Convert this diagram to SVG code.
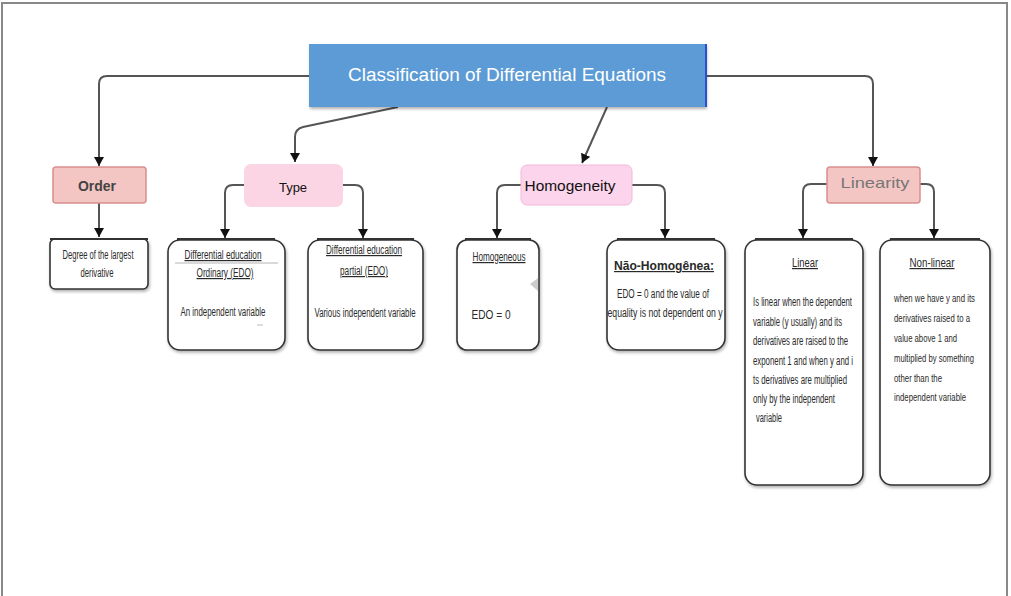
<svg xmlns="http://www.w3.org/2000/svg" width="1011" height="596" viewBox="0 0 1011 596">
<defs>
<marker id="arr" markerUnits="userSpaceOnUse" markerWidth="10" markerHeight="10" refX="9" refY="5" orient="auto">
<path d="M0,0 L9,5 L0,10 z" fill="#111"/>
</marker>
<filter id="sh" x="-10%" y="-10%" width="130%" height="130%">
<feDropShadow dx="1" dy="2" stdDeviation="1.5" flood-color="#000" flood-opacity="0.3"/>
</filter>
</defs>
<style>
.con{fill:none;stroke:#555;stroke-width:2;marker-end:url(#arr)}
.card{fill:#fff;stroke:#333;stroke-width:1.6;filter:url(#sh)}
.top{stroke:#333;stroke-width:2.2}
.sm{font-family:"Liberation Sans",Arial,sans-serif;font-size:12px;fill:#2a2a2a}
.nl{font-size:10.5px}
.u{text-decoration:underline}
.c{text-anchor:middle}
</style>
<rect x="2" y="3" width="1005" height="600" fill="#fff" stroke="#888" stroke-width="2"/>

<g id="connectors">
<path class="con" d="M309,76 H107 Q99,76 99,84 V166"/>
<path class="con" d="M398,107 L303,127 Q295,129 295,137 V162"/>
<path class="con" d="M607,107 L582,163"/>
<path class="con" d="M706,76 H865 Q873,76 873,84 V166"/>
<path class="con" d="M99,203 V237"/>
<path class="con" d="M244,185 H233 Q225,185 225,193 V238"/>
<path class="con" d="M343,185 H355 Q363,185 363,193 V238"/>
<path class="con" d="M521,185 H505 Q497,185 497,193 V238"/>
<path class="con" d="M632,185 H657 Q665,185 665,193 V238"/>
<path class="con" d="M827,184 H811 Q803,184 803,192 V238"/>
<path class="con" d="M920,184 H926 Q934,184 934,192 V238"/>
</g>

<g id="title">
<rect x="309" y="44" width="397" height="63" fill="#5b9bd5" filter="url(#sh)"/>
<line x1="706" y1="44" x2="706" y2="107" stroke="#2a4fcf" stroke-width="2"/>
<text x="507" y="81" text-anchor="middle" font-family="Liberation Sans,Arial,sans-serif" font-size="18" fill="#fff" textLength="318" lengthAdjust="spacingAndGlyphs">Classification of Differential Equations</text>
</g>

<g id="order">
<rect x="53" y="167" width="93" height="36" rx="3" fill="#f4c6c3" stroke="#d98f8f" stroke-width="1.5"/>
<text x="97" y="191" text-anchor="middle" font-family="Liberation Sans,Arial,sans-serif" font-size="14" font-weight="bold" fill="#444">Order</text>
</g>

<g id="degree">
<rect class="card" x="50" y="239" width="98" height="50" rx="5"/>
<line class="top" x1="50" y1="239" x2="148" y2="239"/>
<text class="sm c" x="98" y="259" textLength="71" lengthAdjust="spacingAndGlyphs">Degree of the largest</text>
<text class="sm c" x="97" y="277" textLength="33" lengthAdjust="spacingAndGlyphs">derivative</text>
</g>

<g id="type">
<rect x="244" y="164" width="99" height="43" rx="7" fill="#fcd5e5"/>
<text x="293" y="192" text-anchor="middle" font-family="Liberation Sans,Arial,sans-serif" font-size="13" fill="#111">Type</text>
</g>

<g id="edo-ordinary">
<rect class="card" x="168" y="240" width="117" height="110" rx="12"/>
<line class="top" x1="177" y1="239" x2="275" y2="239"/>
<line x1="175" y1="263" x2="278" y2="263" stroke="#ccc" stroke-width="1.5"/>
<text class="sm c u" x="223" y="259" textLength="77" lengthAdjust="spacingAndGlyphs">Differential education</text>
<text class="sm c u" x="225" y="277" textLength="57" lengthAdjust="spacingAndGlyphs">Ordinary (EDO)</text>
<text class="sm c" x="223" y="316" textLength="85" lengthAdjust="spacingAndGlyphs">An  independent variable</text>
<line x1="257" y1="325" x2="263" y2="325" stroke="#bbb" stroke-width="1"/>
</g>

<g id="edo-partial">
<rect class="card" x="308" y="240" width="115" height="110" rx="12"/>
<line class="top" x1="317" y1="239" x2="414" y2="239"/>
<text class="sm c u" x="364" y="254" textLength="76" lengthAdjust="spacingAndGlyphs">Differential education</text>
<text class="sm c u" x="364" y="275" textLength="48" lengthAdjust="spacingAndGlyphs">partial (EDO)</text>
<text class="sm c" x="365" y="317" textLength="101" lengthAdjust="spacingAndGlyphs">Various independent variable</text>
</g>

<g id="homogeneity">
<rect x="521" y="165" width="111" height="40" rx="6" fill="#fcd5ec" stroke="#f3b8d8" stroke-width="1"/>
<text x="570" y="191" text-anchor="middle" font-family="Liberation Sans,Arial,sans-serif" font-size="15" fill="#111" textLength="91" lengthAdjust="spacingAndGlyphs">Homogeneity</text>
</g>

<g id="homogeneous">
<rect class="card" x="457" y="240" width="82" height="110" rx="10"/>
<line class="top" x1="465" y1="239" x2="531" y2="239"/>
<text class="sm c u" x="499" y="261" textLength="53" lengthAdjust="spacingAndGlyphs">Homogeneous</text>
<text class="sm c" x="491" y="319" font-size="13" textLength="39" lengthAdjust="spacingAndGlyphs">EDO = 0</text>
<path d="M538,278 L530,284 L538,291 z" fill="#ccc"/>
</g>

<g id="nao-homogenea">
<rect class="card" x="607" y="240" width="118" height="110" rx="12"/>
<line class="top" x1="617" y1="239" x2="715" y2="239"/>
<text class="sm c u" x="664" y="270" font-size="13" font-weight="bold" textLength="100" lengthAdjust="spacingAndGlyphs">Não-Homogênea:</text>
<text class="sm c" x="663" y="298" textLength="92" lengthAdjust="spacingAndGlyphs">EDO = 0 and the value of</text>
<text class="sm c" x="665" y="317" textLength="115" lengthAdjust="spacingAndGlyphs">equality is not dependent on y</text>
</g>

<g id="linearity">
<rect x="827" y="167" width="93" height="36" rx="3" fill="#f4c6c3" stroke="#d98f8f" stroke-width="1.5"/>
<text x="875" y="188" text-anchor="middle" font-family="Liberation Sans,Arial,sans-serif" font-size="15" fill="#777" textLength="69" lengthAdjust="spacingAndGlyphs">Linearity</text>
</g>

<g id="linear">
<rect class="card" x="745" y="240" width="118" height="245" rx="12"/>
<line class="top" x1="755" y1="239" x2="853" y2="239"/>
<text class="sm c u" x="805" y="267" font-size="14" textLength="26" lengthAdjust="spacingAndGlyphs">Linear</text>
<text class="sm" x="753" y="306" textLength="99" lengthAdjust="spacingAndGlyphs">Is linear when the dependent</text>
<text class="sm" x="753" y="326" textLength="89" lengthAdjust="spacingAndGlyphs">variable (y usually) and its</text>
<text class="sm" x="753" y="345" textLength="95" lengthAdjust="spacingAndGlyphs">derivatives are raised to the</text>
<text class="sm" x="753" y="365" textLength="100" lengthAdjust="spacingAndGlyphs">exponent 1 and when y and i</text>
<text class="sm" x="753" y="384" textLength="94" lengthAdjust="spacingAndGlyphs">ts derivatives are multiplied</text>
<text class="sm" x="753" y="403" textLength="82" lengthAdjust="spacingAndGlyphs">only by the independent</text>
<text class="sm" x="756" y="422" textLength="26" lengthAdjust="spacingAndGlyphs">variable</text>
</g>

<g id="non-linear">
<rect class="card" x="880" y="240" width="110" height="245" rx="12"/>
<line class="top" x1="890" y1="239" x2="980" y2="239"/>
<text class="sm c u" x="932" y="267" font-size="14" textLength="45" lengthAdjust="spacingAndGlyphs">Non-linear</text>
<text class="sm nl" x="894" y="302" textLength="81" lengthAdjust="spacingAndGlyphs">when we have y and its</text>
<text class="sm nl" x="894" y="322" textLength="76" lengthAdjust="spacingAndGlyphs">derivatives raised to a</text>
<text class="sm nl" x="894" y="342" textLength="63" lengthAdjust="spacingAndGlyphs">value above 1 and</text>
<text class="sm nl" x="894" y="362" textLength="80" lengthAdjust="spacingAndGlyphs">multiplied by something</text>
<text class="sm nl" x="894" y="382" textLength="48" lengthAdjust="spacingAndGlyphs">other than the</text>
<text class="sm nl" x="894" y="401" textLength="72" lengthAdjust="spacingAndGlyphs">independent variable</text>
</g>
</svg>
